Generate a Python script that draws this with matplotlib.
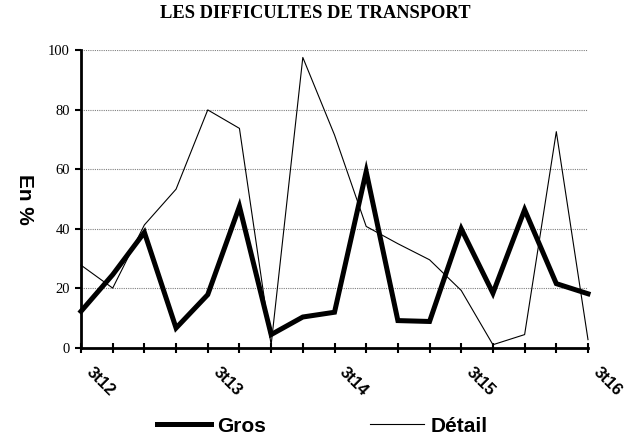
import matplotlib
matplotlib.use("Agg")
import matplotlib.pyplot as plt
from matplotlib.transforms import ScaledTranslation

# quarters 3t12 .. 3t16 (17 points), labels every 4th quarter
labels = ["3t12", "", "", "", "3t13", "", "", "", "3t14", "", "", "", "3t15", "", "", "", "3t16"]
gros = [12.3, 24.6, 38.8, 6.7, 17.9, 47.5, 4.5, 10.4, 12.0, 59.2, 9.2, 8.9, 40.0, 18.4, 46.4, 21.6, 18.2]
detail = [27.8, 20.1, 41.3, 53.3, 79.9, 73.7, 1.0, 97.5, 71.5, 40.8, 35.0, 29.6, 19.3, 1.1, 4.5, 72.6, 2.8]
yticks = [0, 20, 40, 60, 80, 100]

x = list(range(len(labels)))

fig = plt.figure(figsize=(6.36, 4.42), dpi=100)
ax = fig.add_axes([81 / 636, 1 - 348 / 442, 507 / 636, 298 / 442])

ax.plot(x, gros, color="black", lw=3.6, label="Gros", clip_on=False, solid_joinstyle="miter")
ax.plot(x, detail, color="black", lw=0.8, label="Détail", clip_on=False)

ax.set_xlim(0, 16)
ax.set_ylim(0, 100)
ax.set_yticks(yticks)
ax.set_yticklabels([str(v) for v in yticks], family="Liberation Serif", fontsize=10.5)
ax.set_xticks(x)
ax.set_xticklabels([])

# rotated quarter labels, shifted off the tick like the original
lab_tr = ax.get_xaxis_transform() + ScaledTranslation(0.13, -0.17, fig.dpi_scale_trans)
for xi, lab in zip(x, labels):
    if lab:
        ax.text(xi, 0, lab, transform=lab_tr, family="Liberation Sans", fontweight="bold",
                fontsize=12, rotation=-45, ha="left", va="top", rotation_mode="anchor")

ax.yaxis.grid(True, color="#808080", linestyle=(0, (1, 1)), lw=0.8)
ax.set_axisbelow(True)

for s in ["top", "right"]:
    ax.spines[s].set_visible(False)
for s in ["left", "bottom"]:
    ax.spines[s].set_linewidth(2)
ax.tick_params(axis="x", direction="inout", length=7, width=1.5)
ax.tick_params(axis="y", direction="out", length=4, width=1.5, pad=4)

ax.set_ylabel("En %", family="Liberation Sans", fontweight="bold", fontsize=15, rotation=270)
ax.yaxis.set_label_coords(-66 / 507, 0.5)

fig.text(315 / 636, 1 - 14 / 442, "LES DIFFICULTES DE TRANSPORT", family="Liberation Serif",
         fontweight="bold", fontsize=13.3, ha="center", va="center")

fig.legend(loc="center", bbox_to_anchor=(322 / 636, 1 - 426 / 442), ncol=2, frameon=False,
           prop={"family": "Liberation Sans", "weight": "bold", "size": 15},
           handlelength=2.6, handletextpad=0.3, columnspacing=5.0)

fig.savefig("out.png", dpi=100)
